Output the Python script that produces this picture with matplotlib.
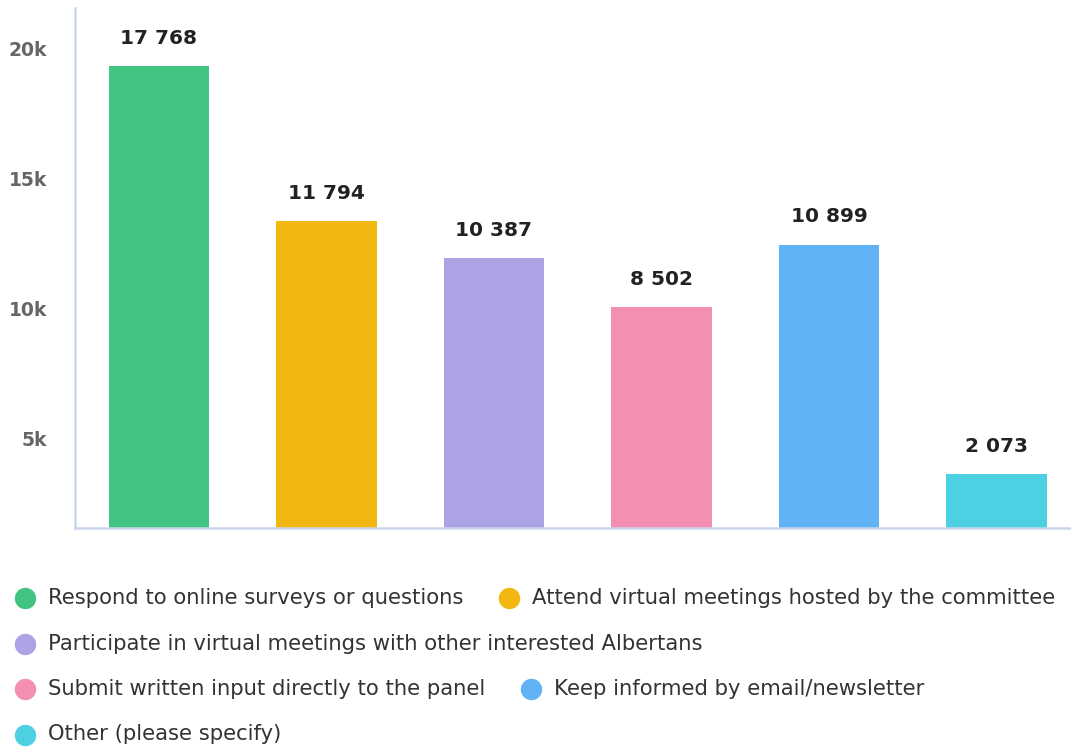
import matplotlib
matplotlib.use('Agg')
import matplotlib.pyplot as plt
from matplotlib.lines import Line2D
from matplotlib.transforms import ScaledTranslation

# data
categories = [
    "Respond to online surveys or questions",
    "Attend virtual meetings hosted by the committee",
    "Participate in virtual meetings with other interested Albertans",
    "Submit written input directly to the panel",
    "Keep informed by email/newsletter",
    "Other (please specify)",
]
values = [17768, 11794, 10387, 8502, 10899, 2073]
colors = ['#41c482', '#f2b711', '#aba3e4', '#f38fb0', '#62b3f5', '#4dd0e2']
tick_values = [5000, 10000, 15000, 20000]
tick_labels = ['5k', '10k', '15k', '20k']

W, H = 1071, 748
fig = plt.figure(figsize=(W / 100, H / 100), dpi=100)
ax = fig.add_axes([75 / W, 1 - 528 / H, 1 - 75 / W, 520 / H])

x = list(range(len(values)))
ax.bar(x, values, width=0.6, color=colors)
ax.set_xlim(-0.5, 5.443)
ax.set_ylim(0, 20000)

# value labels above bars, thousands split by a space
for xi, v in zip(x, values):
    ax.annotate(f'{v:,}'.replace(',', ' '), (xi, v), xytext=(0, 16),
                textcoords='offset points', ha='center', va='baseline',
                fontsize=14.5, fontweight='bold', color='#222222')

ax.set_xticks([])
ax.set_yticks(tick_values)
ax.set_yticklabels(tick_labels, fontsize=13.5, fontweight='bold', color='#666666')
ax.tick_params(axis='y', length=0, pad=20)
# the labels sit a bit below their tick values in the original
shift = ScaledTranslation(0, -0.40, fig.dpi_scale_trans)
for lab in ax.get_yticklabels():
    lab.set_transform(lab.get_transform() + shift)

for s in ['top', 'right']:
    ax.spines[s].set_visible(False)
for s in ['left', 'bottom']:
    ax.spines[s].set_color('#ccd6eb')
    ax.spines[s].set_linewidth(1.8)

# legend, laid out in rows like the original
renderer = fig.canvas.get_renderer()
cur_x = 15
row = 0
for label, color in zip(categories, colors):
    t = fig.text(0, 0, label, fontsize=15.2, color='#333333', va='center', ha='left')
    w = t.get_window_extent(renderer).width
    item_w = 33 + w
    if cur_x > 15 and cur_x + item_w > W - 3:
        row += 1
        cur_x = 15
    yc = 598 + row * 45.5
    fig.add_artist(Line2D([(cur_x + 10) / W], [1 - yc / H], marker='o', markersize=14.4,
                          color=color, linestyle='none', transform=fig.transFigure))
    t.set_position(((cur_x + 33) / W, 1 - yc / H))
    cur_x += item_w + 36

fig.savefig('out.png', dpi=100)
